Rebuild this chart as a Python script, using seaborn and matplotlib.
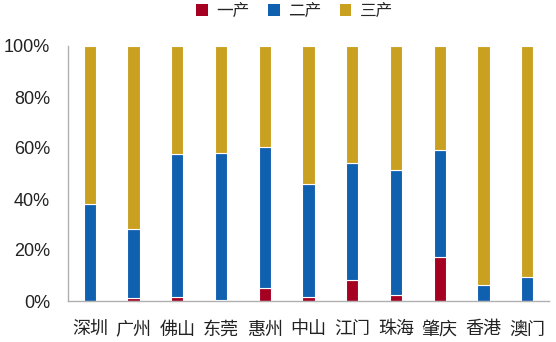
import matplotlib
matplotlib.use("Agg")
import matplotlib.pyplot as plt
import seaborn as sns
import pandas as pd
import numpy as np
from matplotlib.patches import Patch

cities = ["深圳", "广州", "佛山", "东莞", "惠州", "中山", "江门", "珠海", "肇庆", "香港", "澳门"]
primary = [0.1, 1.0, 1.5, 0.3, 5.0, 1.5, 8.2, 2.5, 17.3, 0.1, 0.0]
secondary = [38.0, 27.2, 56.1, 57.7, 55.4, 44.5, 45.8, 48.9, 41.9, 6.2, 9.4]
tertiary = [100 - a - b for a, b in zip(primary, secondary)]
series_names = ["一产", "二产", "三产"]
colors = ["#A50021", "#1060B0", "#C9A020"]

sns.set_theme(style="white")
plt.rcParams['font.family'] = ['Noto Sans CJK SC', 'DejaVu Sans']

df = pd.DataFrame({"city": cities, "p": primary, "s": secondary, "t": tertiary})

fig = plt.figure(figsize=(5.56, 3.42), dpi=100)
ax = fig.add_axes([68/556, 1 - 301/342, (549-68)/556, (301-46)/342])

bottom = np.zeros(len(cities))
for col, name, c in zip(["p", "s", "t"], series_names, colors):
    sns.barplot(data=df, x="city", y=col, color=c, width=0.28, bottom=bottom,
                ax=ax, edgecolor="white", linewidth=0.8, saturation=1)
    bottom = bottom + df[col].values

ax.set_xlim(-0.5, 10.5)
ax.set_ylim(0, 100)
ax.set_yticks([0, 20, 40, 60, 80, 100])
ax.set_yticklabels([f"{v}%" for v in [0, 20, 40, 60, 80, 100]],
                   fontfamily=["Liberation Sans", "DejaVu Sans"], fontsize=13)
ax.set_xlabel("")
ax.set_ylabel("")
for lbl in ax.get_xticklabels():
    lbl.set_fontsize(13)
ax.tick_params(axis="x", length=0, pad=14, colors="#222222")
ax.tick_params(axis="y", length=5, width=1, direction="out", pad=8, colors="#222222")
for t in ax.yaxis.get_major_ticks():
    t.tick1line.set_color("#A0A0A0")
for s in ["top", "right"]:
    ax.spines[s].set_visible(False)
for s in ["left", "bottom"]:
    ax.spines[s].set_color("#B0B0B0")
    ax.spines[s].set_linewidth(1)

handles = [Patch(facecolor=c, edgecolor="none", label=n) for c, n in zip(colors, series_names)]
fig.legend(handles=handles, loc="upper center", bbox_to_anchor=(0.53, 1.035), ncol=3,
           frameon=False, fontsize=12, handlelength=0.7, handleheight=0.7,
           handletextpad=0.5, columnspacing=1.1)

fig.savefig("out.png", dpi=100)
